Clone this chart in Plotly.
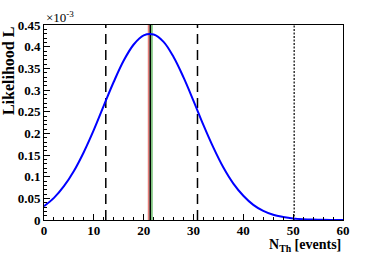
import plotly.graph_objects as go

# Likelihood curve (units of 1e-3)
n_th = [0, 2, 4, 6, 8, 10, 12, 14, 16, 18, 20, 22, 24, 26, 28, 30,
        32, 34, 36, 38, 40, 42, 44, 46, 48, 50, 52, 54, 56, 58, 60]
likelihood = [0.032, 0.051, 0.078, 0.113, 0.157, 0.208, 0.264, 0.319, 0.368,
              0.405, 0.426, 0.428, 0.411, 0.376, 0.329, 0.275, 0.219, 0.167,
              0.121, 0.084, 0.056, 0.035, 0.021, 0.012, 0.007, 0.0036,
              0.0018, 0.0009, 0.0004, 0.0002, 0.0001]

# Vertical marker lines
dashed_lines = [12.4, 30.8]
dotted_lines = [50.2]
central_lines = [21.0, 21.35, 21.65]
central_colors = ["#e8807a", "#000000", "#7fc47f"]

y_max = 0.45
font_family = "Liberation Serif"

fig = go.Figure()

for xv in dashed_lines:
    fig.add_trace(go.Scatter(x=[xv, xv], y=[0, y_max], mode="lines",
                             line=dict(color="black", width=1.5, dash="10px,6px"),
                             showlegend=False, hoverinfo="skip"))
for xv in dotted_lines:
    fig.add_trace(go.Scatter(x=[xv, xv], y=[0, y_max], mode="lines",
                             line=dict(color="black", width=1.2, dash="2px,1.5px"),
                             showlegend=False, hoverinfo="skip"))
for xv, c in zip(central_lines, central_colors):
    fig.add_trace(go.Scatter(x=[xv, xv], y=[0, y_max], mode="lines",
                             line=dict(color=c, width=1.8),
                             showlegend=False, hoverinfo="skip"))

fig.add_trace(go.Scatter(x=n_th, y=likelihood, mode="lines",
                         line=dict(color="#0000ff", width=2, shape="spline"),
                         showlegend=False))

tickfont = dict(family=font_family, size=13, color="black", weight="bold")

fig.update_layout(
    width=382, height=254,
    margin=dict(l=44, r=39, t=25, b=34, autoexpand=False),
    paper_bgcolor="white", plot_bgcolor="white",
    xaxis=dict(range=[0, 60], tickmode="linear", tick0=0, dtick=10,
               ticks="inside", ticklen=6, tickcolor="black",
               minor=dict(dtick=2, ticks="inside", ticklen=3, tickcolor="black"),
               showgrid=False, zeroline=False, automargin=False,
               ticklabelstandoff=-2,
               showline=True, linecolor="black", linewidth=1, mirror=True,
               tickfont=tickfont),
    yaxis=dict(range=[0, y_max], tickmode="array",
               tickvals=[0, 0.05, 0.1, 0.15, 0.2, 0.25, 0.3, 0.35, 0.4, 0.45],
               ticktext=["0", "0.05", "0.1", "0.15", "0.2", "0.25", "0.3", "0.35", "0.4", "0.45"],
               ticks="inside", ticklen=6, tickcolor="black",
               minor=dict(dtick=0.01, ticks="inside", ticklen=3, tickcolor="black"),
               showgrid=False, zeroline=False, automargin=False,
               showline=True, linecolor="black", linewidth=1, mirror=True,
               tickfont=tickfont),
    annotations=[
        dict(text="Likelihood L", xref="paper", yref="paper", x=-0.12, y=1.0,
             xanchor="center", yanchor="top", textangle=-90, showarrow=False,
             font=dict(family=font_family, size=16, color="black", weight="bold")),
        dict(text="N<sub>Th</sub> [events]", xref="paper", yref="paper", x=1.0, y=-0.075,
             xanchor="right", yanchor="top", showarrow=False,
             font=dict(family=font_family, size=14, color="black", weight="bold")),
        dict(text="×10<sup>-3</sup>", xref="paper", yref="paper", x=0.0, y=0.99,
             xanchor="left", yanchor="bottom", showarrow=False,
             font=dict(family=font_family, size=13, color="black")),
    ],
)

fig.write_html("out.html", config={"displayModeBar": False},
               post_script="document.body.style.margin='0';")
